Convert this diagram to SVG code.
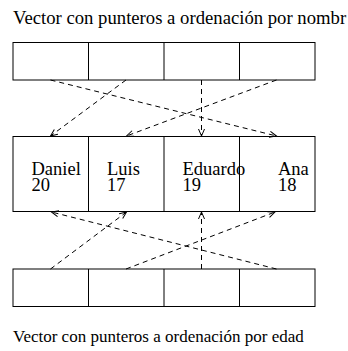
<svg xmlns="http://www.w3.org/2000/svg" width="348" height="351" viewBox="0 0 348 351">
<style>
.cell{fill:none;stroke:#000;stroke-width:1}
.t{font-family:"Liberation Serif","Times New Roman",serif;font-size:17px;fill:#000}
.tt{font-family:"Liberation Serif","Times New Roman",serif;font-size:18.7px;fill:#000}
.n{font-family:"Liberation Serif","Times New Roman",serif;font-size:18.5px;fill:#000}
.c{fill:none;stroke:#000;stroke-width:1;stroke-dasharray:5 4}
</style>
<defs>
<marker id="ah" markerUnits="userSpaceOnUse" markerWidth="10" markerHeight="10" refX="7" refY="3" orient="auto" overflow="visible">
<path d="M0,0 L7,3 L0,6" fill="none" stroke="#000" stroke-width="1"/>
</marker>
</defs>
<rect width="348" height="351" fill="#fff"/>
<text id="title-top" class="tt" x="13" y="23.5">Vector con punteros a ordenación por nombr</text>
<g id="top-vector">
<rect class="cell" x="13" y="42.5" width="302" height="37.5"/>
<line class="cell" x1="88.5" y1="42.5" x2="88.5" y2="80"/>
<line class="cell" x1="164" y1="42.5" x2="164" y2="80"/>
<line class="cell" x1="239.5" y1="42.5" x2="239.5" y2="80"/>
</g>
<g id="records">
<rect class="cell" x="13" y="136.5" width="302" height="75"/>
<line class="cell" x1="88.5" y1="136.5" x2="88.5" y2="211.5"/>
<line class="cell" x1="164" y1="136.5" x2="164" y2="211.5"/>
<line class="cell" x1="239.5" y1="136.5" x2="239.5" y2="211.5"/>
<text class="n" x="31.5" y="175">Daniel</text>
<text class="n" x="31.5" y="191">20</text>
<text class="n" x="107" y="175">Luis</text>
<text class="n" x="107" y="191">17</text>
<text class="n" x="182.5" y="175">Eduardo</text>
<text class="n" x="182.5" y="191">19</text>
<text class="n" x="278" y="175">Ana</text>
<text class="n" x="278" y="191">18</text>
</g>
<g id="bottom-vector">
<rect class="cell" x="13" y="269" width="302" height="37.5"/>
<line class="cell" x1="88.5" y1="269" x2="88.5" y2="306.5"/>
<line class="cell" x1="164" y1="269" x2="164" y2="306.5"/>
<line class="cell" x1="239.5" y1="269" x2="239.5" y2="306.5"/>
</g>
<text id="title-bottom" class="t" x="13" y="342">Vector con punteros a ordenación por edad</text>
<g id="connectors">
<line class="c" x1="50.5" y1="80" x2="276.5" y2="136" marker-end="url(#ah)"/>
<line class="c" x1="126" y1="80" x2="50.5" y2="136" marker-end="url(#ah)"/>
<line class="c" x1="201.5" y1="80" x2="201.5" y2="136" marker-end="url(#ah)"/>
<line class="c" x1="276.5" y1="80" x2="126.5" y2="136" marker-end="url(#ah)"/>
<line class="c" x1="50.5" y1="269" x2="126.5" y2="212" marker-end="url(#ah)"/>
<line class="c" x1="126" y1="269" x2="275" y2="212" marker-end="url(#ah)"/>
<line class="c" x1="201.5" y1="269" x2="201.5" y2="212" marker-end="url(#ah)"/>
<line class="c" x1="276.5" y1="269" x2="51.5" y2="212" marker-end="url(#ah)"/>
</g>
</svg>
